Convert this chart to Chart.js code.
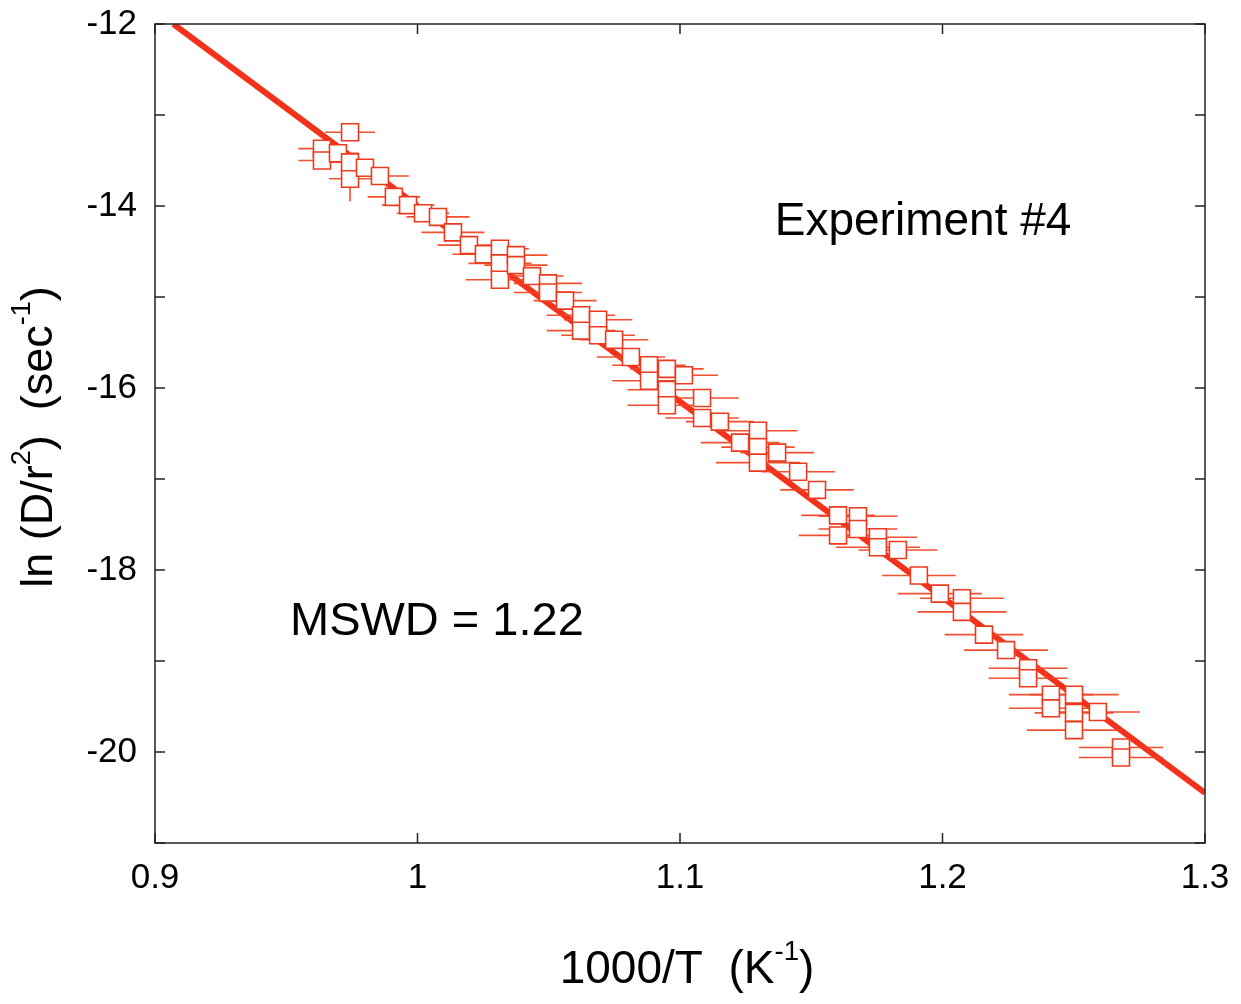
<!DOCTYPE html>
<html>
<head>
<meta charset="utf-8">
<script src="https://cdn.jsdelivr.net/npm/chart.js@4.4.1/dist/chart.umd.min.js"></script>
<style>
  html, body { margin: 0; padding: 0; background: #fff; }
  #wrap { width: 1241px; height: 1004px; }
</style>
</head>
<body>
<div id="wrap"><canvas id="arrheniusChart" width="1241" height="1004"></canvas></div>
<script>
// heating steps: 1000/T (K^-1) and ln(D/r^2) (sec^-1)
const invTemp = [
  0.9636, 0.9636, 0.9743, 0.9697, 0.9743, 0.9743, 0.9800, 0.9857, 0.9910, 0.9964,
  1.0021, 1.0078, 1.0135, 1.0196, 1.0253, 1.0314, 1.0314, 1.0314, 1.0375, 1.0375,
  1.0436, 1.0497, 1.0497, 1.0562, 1.0623, 1.0623, 1.0688, 1.0688, 1.0749, 1.0813,
  1.0882, 1.0882, 1.0950, 1.0950, 1.0950, 1.1015, 1.1084, 1.1084, 1.1152, 1.1229,
  1.1297, 1.1297, 1.1297, 1.1370, 1.1450, 1.1522, 1.1602, 1.1602, 1.1678, 1.1678,
  1.1754, 1.1754, 1.1830, 1.1910, 1.1990, 1.2074, 1.2074, 1.2158, 1.2242, 1.2326,
  1.2326, 1.2413, 1.2413, 1.2501, 1.2501, 1.2501, 1.2592, 1.2680, 1.2680
];
const lnD = [
  -13.37, -13.50, -13.19, -13.42, -13.70, -13.52, -13.58, -13.67, -13.90, -13.99,
  -14.08, -14.12, -14.29, -14.43, -14.53, -14.47, -14.63, -14.81, -14.54, -14.65,
  -14.77, -14.85, -14.95, -15.04, -15.20, -15.37, -15.25, -15.42, -15.47, -15.66,
  -15.75, -15.92, -15.79, -16.02, -16.19, -15.86, -16.11, -16.33, -16.37, -16.60,
  -16.47, -16.65, -16.82, -16.71, -16.92, -17.12, -17.40, -17.62, -17.41, -17.55,
  -17.64, -17.75, -17.78, -18.06, -18.26, -18.31, -18.46, -18.71, -18.88, -19.08,
  -19.19, -19.37, -19.52, -19.37, -19.57, -19.76, -19.56, -19.95, -20.06
];
// half-widths of the error bars
const invTempErr = [
  0.009, 0.009, 0.0095, 0.008, 0.008, 0.008, 0.009, 0.011, 0.010, 0.010,
  0.010, 0.012, 0.012, 0.012, 0.012, 0.011, 0.012, 0.013, 0.012, 0.012,
  0.012, 0.013, 0.013, 0.012, 0.013, 0.013, 0.013, 0.014, 0.013, 0.013,
  0.014, 0.014, 0.014, 0.015, 0.015, 0.013, 0.014, 0.014, 0.013, 0.015,
  0.015, 0.014, 0.016, 0.014, 0.014, 0.014, 0.014, 0.015, 0.015, 0.015,
  0.015, 0.016, 0.015, 0.014, 0.016, 0.016, 0.017, 0.015, 0.016, 0.015,
  0.015, 0.016, 0.016, 0.017, 0.015, 0.018, 0.016, 0.016, 0.016
];
const lnDErr = [
  0, 0, 0, 0, 0.25, 0, 0, 0, 0, 0,
  0, 0, 0, 0, 0, 0, 0, 0, 0, 0,
  0, 0, 0, 0, 0, 0, 0, 0, 0, 0,
  0, 0, 0, 0, 0, 0, 0, 0, 0, 0,
  0, 0, 0, 0, 0, 0, 0, 0, 0, 0,
  0, 0, 0, 0, 0, 0, 0, 0, 0, 0,
  0, 0, 0, 0, 0, 0, 0, 0, 0
];
// best-fit Arrhenius line
const fitX = [0.907, 1.3];
const fitY = [-12, -20.45];

const xTickLabels = [0.9, 1, 1.1, 1.2, 1.3];
const yTickLabels = [-12, -14, -16, -18, -20];

const FONT = "'Liberation Sans', Arial, Helvetica, sans-serif";

// draws text pieces, some of them raised as superscripts
function drawRich(ctx, parts, size, x, y, angle) {
  ctx.save();
  ctx.translate(x, y);
  ctx.rotate(angle);
  let total = 0;
  parts.forEach(([txt, sup]) => {
    ctx.font = (sup ? size * 0.6 : size) + "px " + FONT;
    total += ctx.measureText(txt).width;
  });
  let cx = -total / 2;
  ctx.textBaseline = "middle";
  ctx.textAlign = "left";
  parts.forEach(([txt, sup]) => {
    ctx.font = (sup ? size * 0.6 : size) + "px " + FONT;
    ctx.fillText(txt, cx, sup ? -size * 0.38 : 0);
    cx += ctx.measureText(txt).width;
  });
  ctx.restore();
}

// error bars go under the squares
const errorBars = {
  id: "errorBars",
  beforeDatasetDraw(chart, args) {
    if (args.index !== 1) return;
    const { ctx, scales: { x, y } } = chart;
    ctx.save();
    ctx.strokeStyle = "rgba(240, 70, 35, 0.95)";
    ctx.lineWidth = 1.6;
    invTemp.forEach((t, i) => {
      const py = y.getPixelForValue(lnD[i]);
      ctx.beginPath();
      ctx.moveTo(x.getPixelForValue(t - invTempErr[i]), py);
      ctx.lineTo(x.getPixelForValue(t + invTempErr[i]), py);
      if (lnDErr[i] > 0) {
        const px = x.getPixelForValue(t);
        ctx.moveTo(px, y.getPixelForValue(lnD[i] - lnDErr[i]));
        ctx.lineTo(px, y.getPixelForValue(lnD[i] + lnDErr[i]));
      }
      ctx.stroke();
    });
    ctx.restore();
  }
};

// box, inward ticks on all sides, titles and notes
const frame = {
  id: "frame",
  afterDatasetsDraw(chart) {
    const { ctx, chartArea: a, scales: { x, y } } = chart;
    ctx.save();
    ctx.strokeStyle = "#222";
    ctx.lineWidth = 1.5;
    ctx.strokeRect(a.left, a.top, a.right - a.left, a.bottom - a.top);
    ctx.beginPath();
    y.ticks.forEach(t => {
      const py = y.getPixelForValue(t.value);
      ctx.moveTo(a.left, py); ctx.lineTo(a.left + 10, py);
      ctx.moveTo(a.right, py); ctx.lineTo(a.right - 10, py);
    });
    x.ticks.forEach(t => {
      const px = x.getPixelForValue(t.value);
      ctx.moveTo(px, a.bottom); ctx.lineTo(px, a.bottom - 10);
      ctx.moveTo(px, a.top); ctx.lineTo(px, a.top + 10);
    });
    ctx.stroke();

    ctx.fillStyle = "#000";
    ctx.textAlign = "center";
    ctx.textBaseline = "middle";
    ctx.font = "46px " + FONT;
    ctx.fillText("Experiment #4", x.getPixelForValue(1.1926), y.getPixelForValue(-14.18));
    ctx.font = "47px " + FONT;
    ctx.fillText("MSWD = 1.22", x.getPixelForValue(1.0074), y.getPixelForValue(-18.57));

    drawRich(ctx, [["ln (D/r", false], ["2", true], [")  (sec", false], ["-1", true], [")", false]],
      45, 40, 437, -Math.PI / 2);
    drawRich(ctx, [["1000/T  (K", false], ["-1", true], [")", false]], 46, 687, 970, 0);
    ctx.restore();
  }
};

const ctx = document.getElementById("arrheniusChart");
new Chart(ctx, {
  type: "scatter",
  data: {
    datasets: [
      {
        type: "line",
        label: "fit",
        data: fitX.map((v, i) => ({ x: v, y: fitY[i] })),
        borderColor: "#f4321c",
        borderWidth: 6,
        pointRadius: 0,
        fill: false,
        order: 2
      },
      {
        label: "steps",
        data: invTemp.map((v, i) => ({ x: v, y: lnD[i] })),
        pointStyle: "rect",
        pointRadius: 12,
        pointBorderWidth: 1.6,
        pointBorderColor: "#ec3a1e",
        pointBackgroundColor: "#ffffff",
        order: 1
      }
    ]
  },
  options: {
    responsive: false,
    animation: false,
    devicePixelRatio: 1,
    layout: { padding: { top: 24, right: 36, left: 0, bottom: 0 } },
    plugins: { legend: { display: false }, tooltip: { enabled: false } },
    scales: {
      x: {
        type: "linear",
        min: 0.9,
        max: 1.3,
        grid: { display: false },
        border: { display: false },
        ticks: {
          stepSize: 0.1,
          padding: 6,
          color: "#000",
          font: { family: FONT, size: 35 },
          callback: v => {
            const lab = xTickLabels.find(l => Math.abs(l - v) < 1e-6);
            return lab === undefined ? "" : String(lab);
          }
        },
        afterFit: s => { s.height = 161; s.paddingLeft = 0; s.paddingRight = 0; }
      },
      y: {
        type: "linear",
        min: -21,
        max: -12,
        grid: { display: false },
        border: { display: false },
        ticks: {
          stepSize: 1,
          padding: 10,
          color: "#000",
          font: { family: FONT, size: 35 },
          callback: v => (yTickLabels.includes(v) ? String(v) : "")
        },
        afterFit: s => { s.width = 155; s.paddingTop = 0; s.paddingBottom = 0; }
      }
    }
  },
  plugins: [errorBars, frame]
});
</script>
</body>
</html>
